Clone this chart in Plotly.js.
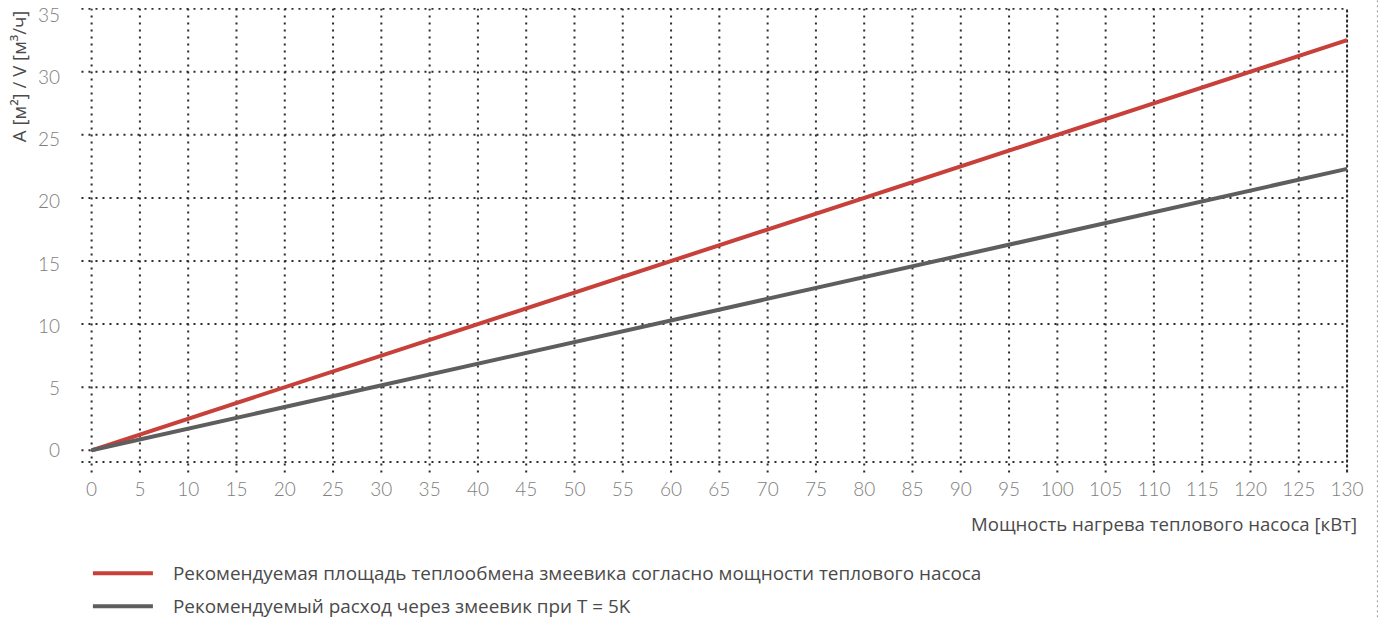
<!DOCTYPE html>
<html>
<head>
<meta charset="utf-8">
<script src="https://cdn.plot.ly/plotly-3.0.1.min.js"></script>
<style>
html,body{margin:0;padding:0;background:#fff;}
#chart{width:1378px;height:619px;}
</style>
</head>
<body>
<div id="chart"></div>
<script>
// ---- data ----
const powerKW = [0, 130];
const areaM2 = [0, 32.5];
const flowM3h = [0, 22.3];
const seriesNames = [
  "Рекомендуемая площадь теплообмена змеевика согласно мощности теплового насоса",
  "Рекомендуемый расход через змеевик при T = 5K"
];
const seriesColors = ["#c8403a", "#5e5e5e"];
const xTicks = [0,5,10,15,20,25,30,35,40,45,50,55,60,65,70,75,80,85,90,95,100,105,110,115,120,125,130];
const yTicks = [0,5,10,15,20,25,30,35];
const xTitle = "Мощность нагрева теплового насоса [кВт]";
const yTitle = "A [м²] / V [м³/ч]";

// ---- layout geometry ----
const W = 1378, H = 619;
const xRange = [-1.1, 130.2];
const yRange = [-1.8, 35.05];
const yLabelRange = [-1.826, 35.587];
const mL = 81.1, mR = 29.4, mT = 7.7, mB = 146.3;
const plotW = W - mL - mR, plotH = H - mT - mB;
const px2paperX = p => (p - mL) / plotW;
const px2paperY = p => (H - mB - p) / plotH;

const gridColor = "#2b2b2b";
const dotDash = "2px,5px";
const xMax = xTicks[xTicks.length - 1];
const yMax = yTicks[yTicks.length - 1];
const gridLeft = -1.05, gridBottom = -1.77, baseY = -0.92;

const shapes = [];
// vertical grid lines
xTicks.forEach(v => {
  shapes.push({type:"line", xref:"x", yref:"y", x0:v, x1:v, y0:gridBottom, y1:yMax,
    line:{color:gridColor, width:2, dash: v === xMax ? "3px,2px" : dotDash}, layer:"below"});
});
// horizontal grid lines (zero only as a short stub)
yTicks.forEach(v => {
  shapes.push({type:"line", xref:"x", yref:"y", x0:gridLeft, x1: v === 0 ? 0 : xMax, y0:v, y1:v,
    line:{color:gridColor, width:2, dash:dotDash}, layer:"below"});
});
// bottom base line
shapes.push({type:"line", xref:"x", yref:"y", x0:gridLeft, x1:xMax, y0:baseY, y1:baseY,
  line:{color:gridColor, width:2, dash:dotDash}, layer:"below"});
// right page edge dotted line
shapes.push({type:"line", xref:"paper", yref:"paper", x0:px2paperX(1377), x1:px2paperX(1377),
  y0:px2paperY(0), y1:px2paperY(619), line:{color:"#9a9a9a", width:1, dash:"2px,3px"}});

// custom legend
const textFont = {family:"Open Sans", size:18.6, color:"#4a4a4a"};
const legendFont = {family:"Open Sans", size:18.9, color:"#4a4a4a"};
const annotations = [];
const legendY = [573, 606];
seriesNames.forEach((name, i) => {
  shapes.push({type:"line", xref:"paper", yref:"paper",
    x0:px2paperX(93), x1:px2paperX(153), y0:px2paperY(legendY[i]), y1:px2paperY(legendY[i]),
    line:{color:seriesColors[i], width:4}});
  annotations.push({xref:"paper", yref:"paper", x:px2paperX(171), y:px2paperY(legendY[i]),
    xanchor:"left", yanchor:"middle", showarrow:false, text:name, font:legendFont});
});
// axis titles
annotations.push({xref:"paper", yref:"paper", x:px2paperX(1359), y:px2paperY(523),
  xanchor:"right", yanchor:"middle", showarrow:false, text:xTitle, font:textFont});
annotations.push({xref:"paper", yref:"paper", x:px2paperX(18), y:px2paperY(76),
  xanchor:"center", yanchor:"middle", showarrow:false, text:yTitle, textangle:-90, font:textFont});

const tickFont = {family:"Lato", size:19, color:"#7e7e7e", weight:300};

const traces = [
  {x:powerKW, y:areaM2, mode:"lines", name:seriesNames[0],
   line:{color:seriesColors[0], width:4}, hoverinfo:"skip"},
  {x:powerKW, y:flowM3h, mode:"lines", name:seriesNames[1],
   line:{color:seriesColors[1], width:4}, hoverinfo:"skip"},
  // invisible carrier for the y tick-label axis
  {x:powerKW, y:areaM2, yaxis:"y2", mode:"lines", line:{width:0}, opacity:0,
   hoverinfo:"skip", showlegend:false}
];

const layout = {
  width: W, height: H,
  margin: {l:mL, r:mR, t:mT, b:mB, pad:0},
  paper_bgcolor:"#ffffff", plot_bgcolor:"#ffffff",
  showlegend:false,
  xaxis:{range:xRange, tickvals:xTicks, ticktext:xTicks.map(String), showgrid:false, zeroline:false,
    showline:false, ticks:"", tickfont:tickFont, ticklabelstandoff:3, fixedrange:true},
  yaxis:{range:yRange, showgrid:false, zeroline:false, showline:false, ticks:"",
    showticklabels:false, fixedrange:true},
  yaxis2:{range:yLabelRange, overlaying:"y", side:"left", tickvals:yTicks, ticktext:yTicks.map(String),
    showgrid:false, zeroline:false, showline:false, ticks:"", tickfont:tickFont,
    ticklabelstandoff:20, ticklabeloverflow:"allow", fixedrange:true},
  shapes: shapes,
  annotations: annotations
};

Plotly.newPlot("chart", traces, layout, {displayModeBar:false, staticPlot:true});
</script>
</body>
</html>
